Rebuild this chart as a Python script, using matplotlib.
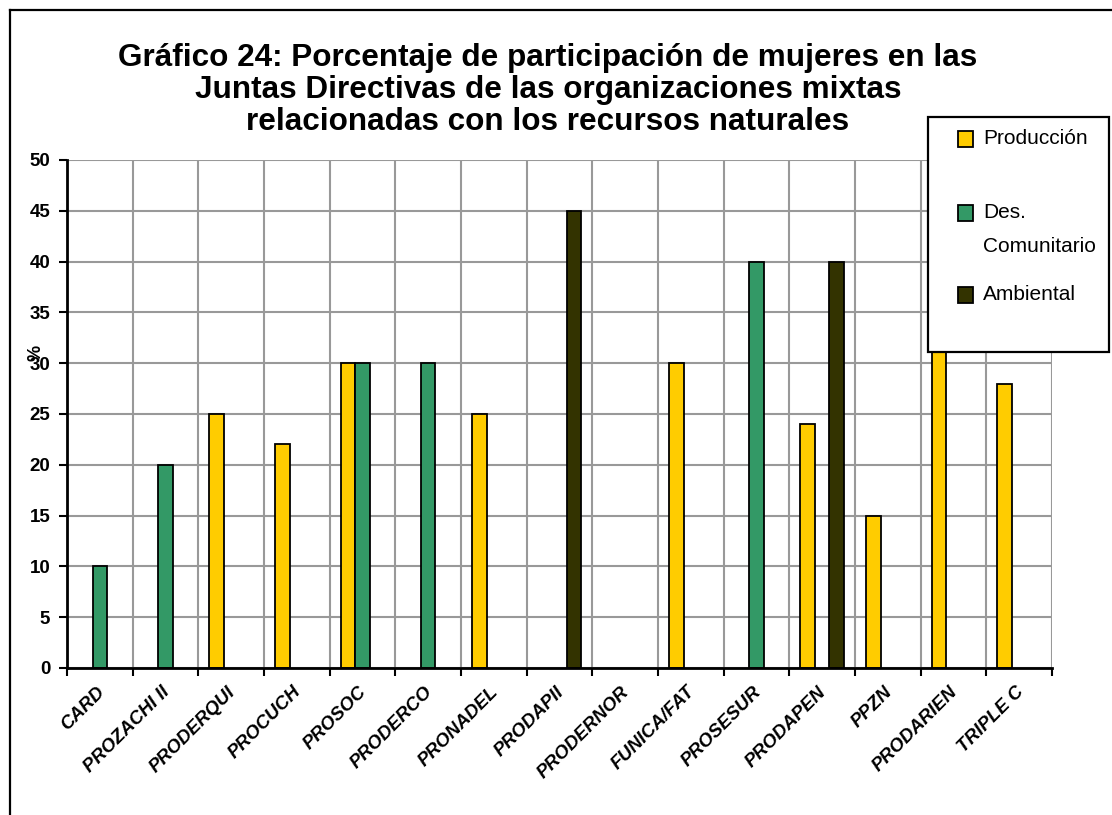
import matplotlib.pyplot as plt
from matplotlib.patches import Rectangle
from matplotlib.lines import Line2D
import numpy as np

plt.rcParams['font.family'] = ['Liberation Sans', 'DejaVu Sans']

# Data (percent of women on boards)
categories = ['CARD', 'PROZACHI II', 'PRODERQUI', 'PROCUCH', 'PROSOC', 'PRODERCO',
              'PRONADEL', 'PRODAPII', 'PRODERNOR', 'FUNICA/FAT', 'PROSESUR',
              'PRODAPEN', 'PPZN', 'PRODARIEN', 'TRIPLE C']
produccion = [0, 0, 25, 22, 30, 0, 25, 0, 0, 30, 0, 24, 15, 35, 28]
des_comunitario = [10, 20, 0, 0, 30, 30, 0, 0, 0, 0, 40, 0, 0, 0, 0]
ambiental = [0, 0, 0, 0, 0, 0, 0, 45, 0, 0, 0, 40, 0, 0, 0]
y_ticks = [0, 5, 10, 15, 20, 25, 30, 35, 40, 45, 50]

series = [('Producción', produccion, '#FFCC00'),
          ('Des.\nComunitario', des_comunitario, '#339966'),
          ('Ambiental', ambiental, '#333300')]

W, H = 1112, 815
fig = plt.figure(figsize=(W / 100, H / 100), dpi=100)


def fx(px):
    return px / W


def fy(py):
    return 1 - py / H


ax = fig.add_axes([fx(67), fy(668), fx(1052) - fx(67), fy(160) - fy(668)])

x = np.arange(len(categories))
width = 0.222
for i, (name, vals, color) in enumerate(series):
    vals = np.array(vals, dtype=float)
    keep = vals > 0
    ax.bar(x[keep] + (i - 1) * width, vals[keep], width, color=color,
           edgecolor='black', linewidth=1.3, zorder=3)

ax.set_xlim(-0.5, len(categories) - 0.5)
ax.set_ylim(0, 50)

# gridlines on category boundaries and every 5
ax.set_xticks(np.arange(len(categories) + 1) - 0.5)
ax.set_xticklabels([])
ax.set_yticks(y_ticks)
ax.set_yticklabels([str(v) for v in y_ticks], fontsize=13.5, fontweight='bold')
ax.grid(True, color='#999999', linewidth=1.5, zorder=0)
ax.tick_params(axis='both', direction='out', length=6, width=1.5, color='black')
ax.tick_params(axis='y', pad=6)

for s in ['top', 'right']:
    ax.spines[s].set_visible(False)
for s in ['left', 'bottom']:
    ax.spines[s].set_linewidth(2)
    ax.spines[s].set_zorder(4)

# category labels at bar group centres
for xi, lab in zip(x, categories):
    ax.annotate(lab, xy=(xi, 0), xycoords=('data', 'axes fraction'),
                xytext=(-3, -11), textcoords='offset points',
                rotation=45, ha='right', va='top', rotation_mode='anchor',
                fontsize=13.5, fontweight='bold', fontstyle='italic')

ax.text(-0.031, 0.62, '%', transform=ax.transAxes, rotation=90,
        fontsize=13, fontweight='bold', ha='center', va='center')

# title
fig.text(fx(548), fy(90), 'Gráfico 24: Porcentaje de participación de mujeres en las\n'
         'Juntas Directivas de las organizaciones mixtas\n'
         'relacionadas con los recursos naturales',
         ha='center', va='center', fontsize=22.7, fontweight='bold',
         linespacing=1.08)

# outer chart frame (cropped at right and bottom)
fig.add_artist(Line2D([fx(10), fx(10)], [fy(10), 0], color='black', lw=1.6))
fig.add_artist(Line2D([fx(10), 1], [fy(10), fy(10)], color='black', lw=1.6))

# legend box
fig.add_artist(Rectangle((fx(928), fy(352)), fx(1109) - fx(928), fy(117) - fy(352),
                         transform=fig.transFigure, facecolor='white',
                         edgecolor='black', linewidth=1.6, zorder=5))
leg_y = [139, 213, 295]
for (name, vals, color), py in zip(series, leg_y):
    fig.add_artist(Rectangle((fx(958), fy(py + 8)), fx(15), 16 / H,
                             transform=fig.transFigure, facecolor=color,
                             edgecolor='black', linewidth=1.3, zorder=6))
    lines = name.split('\n')
    for j, line in enumerate(lines):
        fig.text(fx(983), fy(py + j * 33), line, ha='left', va='center',
                 fontsize=15, zorder=7)

fig.savefig('out.png', dpi=100)
